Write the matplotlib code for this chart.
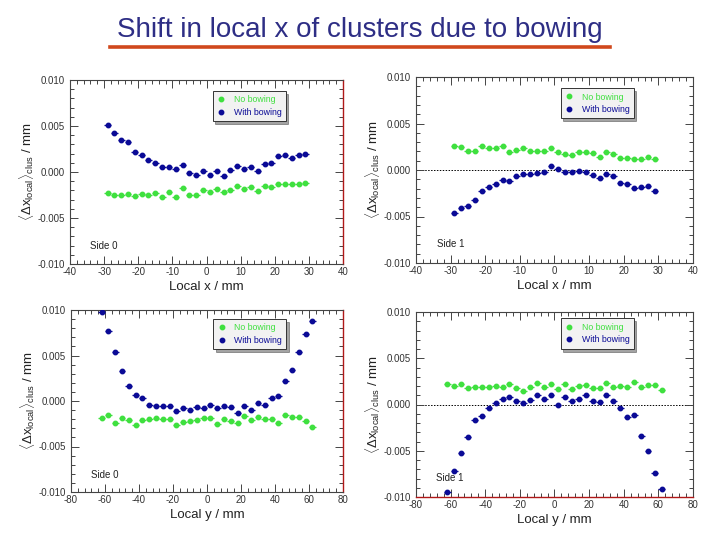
import matplotlib
matplotlib.use("Agg")
import matplotlib.pyplot as plt
from matplotlib.lines import Line2D
from matplotlib.ticker import MultipleLocator, FormatStrFormatter

plt.rcParams['font.family'] = ['Liberation Sans', 'DejaVu Sans']
plt.rcParams['axes.unicode_minus'] = False
plt.rcParams['mathtext.fontset'] = 'custom'
plt.rcParams['mathtext.rm'] = 'Liberation Sans'
plt.rcParams['mathtext.it'] = 'Liberation Sans'

title = "Shift in local x of clusters due to bowing"
series_names = ["No bowing", "With bowing"]

# Local x panels (bin centres -29 .. 29)
local_x = [-29, -27, -25, -23, -21, -19, -17, -15, -13, -11, -9, -7, -5, -3, -1,
           1, 3, 5, 7, 9, 11, 13, 15, 17, 19, 21, 23, 25, 27, 29]
side0_x_nobow = [-0.00225, -0.00254, -0.00254, -0.00243, -0.00261, -0.00239, -0.0025, -0.00232,
                 -0.00268, -0.00221, -0.00268, -0.00174, -0.00254, -0.00254, -0.00196,
                 -0.00221, -0.00188, -0.00221, -0.00196, -0.00156, -0.00188, -0.00167, -0.00203,
                 -0.00156, -0.00167, -0.0013, -0.0013, -0.00134, -0.00134, -0.00116]
side0_x_bow = [0.00507, 0.0042, 0.00344, 0.00326, 0.00214, 0.00181, 0.0013, 0.00094, 0.00054,
               0.00054, 0.00029, 0.00076, -0.00014, -0.00036, 0.00014, -0.00036, 0.00014,
               -0.00043, 0.00022, 0.00065, 0.00036, 0.00058, 0.00011, 0.0009, 0.00094,
               0.0017, 0.00185, 0.00149, 0.00185, 0.00196]
side1_x_nobow = [0.00257, 0.00246, 0.00207, 0.00207, 0.00257, 0.00232, 0.00232, 0.00257, 0.00193,
                 0.00218, 0.00232, 0.00207, 0.00207, 0.002, 0.00232, 0.00196, 0.00171, 0.00164,
                 0.00193, 0.00189, 0.00182, 0.00143, 0.00193, 0.00171, 0.00132, 0.00125,
                 0.00118, 0.00121, 0.00139, 0.00118]
side1_x_bow = [-0.00461, -0.00407, -0.00386, -0.00325, -0.00229, -0.00179, -0.00146, -0.00104,
               -0.00118, -0.00068, -0.00043, -0.00039, -0.00032, -0.00021, 0.00043, 0.00007,
               -0.00018, -0.00018, -0.00011, -0.00018, -0.00057, -0.00082, -0.00046, -0.00064,
               -0.00139, -0.00154, -0.00189, -0.00182, -0.00168, -0.00229]

# Local y panels (bin centres -62 .. 62)
local_y = [-62, -58, -54, -50, -46, -42, -38, -34, -30, -26, -22, -18, -14, -10, -6, -2,
           2, 6, 10, 14, 18, 22, 26, 30, 34, 38, 42, 46, 50, 54, 58, 62]
side0_y_nobow = [-0.00189, -0.00152, -0.00237, -0.00182, -0.00211, -0.00266, -0.00207, -0.00196,
                 -0.00182, -0.002, -0.00196, -0.00266, -0.00229, -0.00218, -0.00204, -0.00189,
                 -0.00182, -0.00255, -0.00196, -0.00215, -0.00237, -0.0016, -0.00207, -0.00171,
                 -0.002, -0.002, -0.00244, -0.00152, -0.00178, -0.00171, -0.00215, -0.00281]
side0_y_bow = [0.00975, 0.00769, 0.00541, 0.00332, 0.00167, 0.00061, 0.00035, -0.00039,
               -0.00053, -0.00053, -0.00057, -0.00108, -0.00079, -0.00097, -0.00068, -0.00079,
               -0.00039, -0.00079, -0.00057, -0.00068, -0.00134, -0.00057, -0.00094, -0.00024,
               -0.00046, 0.00031, 0.00053, 0.00218, 0.00336, 0.00534, 0.00732, 0.00879]
side1_y_nobow = [0.00218, 0.002, 0.00225, 0.00179, 0.00189, 0.00186, 0.00189, 0.002, 0.00193,
                 0.00218, 0.00182, 0.00146, 0.00186, 0.00236, 0.00193, 0.00218, 0.00168,
                 0.00218, 0.00168, 0.00196, 0.00214, 0.00182, 0.00175, 0.00236, 0.00186,
                 0.00204, 0.00186, 0.00246, 0.00186, 0.00207, 0.00207, 0.00154]
side1_y_bow = [-0.00943, -0.00718, -0.00529, -0.0035, -0.00164, -0.00121, -0.00043, 0.00014,
               0.00061, 0.00086, 0.00039, 0.00018, 0.00054, 0.001, 0.00061, 0.001, -0.00004,
               0.00086, 0.00043, 0.00061, 0.00104, 0.00036, 0.00032, 0.001, 0.00036, -0.00043,
               -0.00136, -0.00118, -0.00343, -0.00504, -0.00739, -0.00918]

GREEN = '#3fe03f'
BLUE = '#0a0a96'
FRAME = '#444444'
ylab = r'$\langle\mathrm{\Delta x}_{\mathrm{local}}\rangle_{\mathrm{clus}}$ / mm'

fig = plt.figure(figsize=(7.2, 5.4), dpi=100)
fig.patch.set_facecolor('white')

fig.text(0.5, 0.944, title, ha='center', va='center', fontsize=20, color='#2e2e85')
fig.add_artist(Line2D([110/720, 610/720], [1-47/540, 1-47/540], color='#d0481c', lw=2.6))

panels = [
    dict(pos=[70/720, 1-264/540, 273/720, 184/540], x=local_x, no=side0_x_nobow, bow=side0_x_bow,
         xlim=(-40, 40), xmaj=10, xmin=2, xerr=1, xlabel='Local x / mm', side='Side 0',
         sidepos=(-34, -0.008), zero=False, leg=(0.522, 0.94), red='right'),
    dict(pos=[416/720, 1-263/540, 277/720, 186/540], x=local_x, no=side1_x_nobow, bow=side1_x_bow,
         xlim=(-40, 40), xmaj=10, xmin=2, xerr=1, xlabel='Local x / mm', side='Side 1',
         sidepos=(-34, -0.008), zero=True, leg=(0.522, 0.94), red=None),
    dict(pos=[71/720, 1-492/540, 272/720, 182/540], x=local_y, no=side0_y_nobow, bow=side0_y_bow,
         xlim=(-80, 80), xmaj=20, xmin=4, xerr=2, xlabel='Local y / mm', side='Side 0',
         sidepos=(-68.5, -0.0081), zero=False, leg=(0.522, 0.95), red='right'),
    dict(pos=[416/720, 1-497/540, 277/720, 185/540], x=local_y, no=side1_y_nobow, bow=side1_y_bow,
         xlim=(-80, 80), xmaj=20, xmin=4, xerr=2, xlabel='Local y / mm', side='Side 1',
         sidepos=(-68.5, -0.0079), zero=True, leg=(0.522, 0.965), red='bottom'),
]

for p in panels:
    ax = fig.add_axes(p['pos'])
    ax.set_xlim(*p['xlim'])
    ax.set_ylim(-0.010, 0.010)
    if p['zero']:
        ax.axhline(0, color='black', lw=0.7, ls=(0, (1.5, 1.5)), zorder=1)
    ax.errorbar(p['x'], p['no'], xerr=p['xerr'], yerr=0.00015, fmt='o', ms=3.2,
                color=GREEN, ecolor=GREEN, elinewidth=0.9, capsize=0, zorder=3)
    ax.errorbar(p['x'], p['bow'], xerr=p['xerr'], yerr=0.00015, fmt='o', ms=3.2,
                color=BLUE, ecolor=BLUE, elinewidth=0.9, capsize=0, zorder=3)
    ax.xaxis.set_major_locator(MultipleLocator(p['xmaj']))
    ax.xaxis.set_minor_locator(MultipleLocator(p['xmin']))
    ax.yaxis.set_major_locator(MultipleLocator(0.005))
    ax.yaxis.set_minor_locator(MultipleLocator(0.001))
    ax.yaxis.set_major_formatter(FormatStrFormatter('%.3f'))
    ax.tick_params(which='both', direction='in', top=True, right=True, colors=FRAME,
                   labelcolor='#333333', labelsize=7, width=0.7)
    ax.tick_params(which='major', length=6)
    ax.tick_params(which='minor', length=3)
    ax.tick_params(axis='x', pad=2)
    for s in ax.spines.values():
        s.set_color(FRAME)
        s.set_linewidth(0.8)
    if p['red']:
        ax.spines[p['red']].set_color('#b01818')
        ax.spines[p['red']].set_linewidth(1.0)
    ax.set_xlabel(p['xlabel'], fontsize=9.5, color='#222222', labelpad=3)
    ax.set_ylabel(ylab, fontsize=9.5, color='#222222', labelpad=1)
    ax.text(p['sidepos'][0], p['sidepos'][1], p['side'], fontsize=7, color='#222222',
            ha='left', va='center')
    handles = [Line2D([], [], ls='none', marker='o', ms=3.2, color=GREEN),
               Line2D([], [], ls='none', marker='o', ms=3.2, color=BLUE)]
    leg = ax.legend(handles, series_names, loc='upper left', bbox_to_anchor=p['leg'],
                    fontsize=6.3, frameon=True, fancybox=False, shadow=True, handlelength=1.0,
                    handletextpad=0.9, borderpad=0.5, labelspacing=0.4, borderaxespad=0)
    leg.get_frame().set_facecolor('#f2f2f2')
    leg.get_frame().set_edgecolor('#333333')
    leg.get_frame().set_linewidth(0.7)
    for t, c in zip(leg.get_texts(), [GREEN, BLUE]):
        t.set_color(c)

fig.savefig('out.png', dpi=100, facecolor='white')
